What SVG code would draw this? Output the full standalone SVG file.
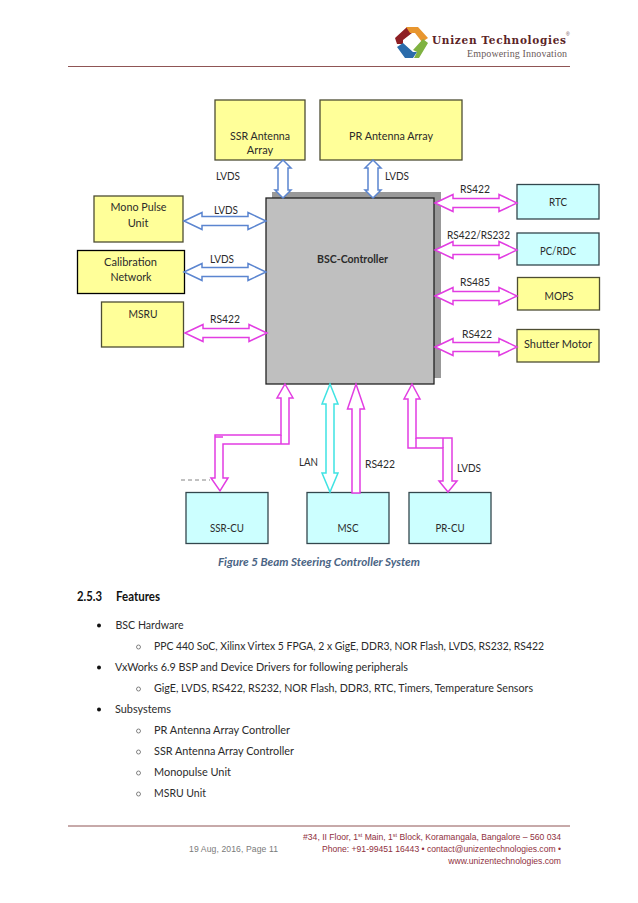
<svg xmlns="http://www.w3.org/2000/svg" width="638" height="903" viewBox="0 0 638 903">
<style>
text{font-family:Lato,"Liberation Sans",sans-serif;font-size:11px;fill:#2b2b2b}
.m{text-anchor:middle}
.b{font-weight:700}
.y{fill:#ffff99;stroke:#4d4d33;stroke-width:1.3}
.c{fill:#ccffff;stroke:#33474d;stroke-width:1.3}
.k{stroke:#000}
.arw{fill:#fff;stroke-width:1.5;stroke-linejoin:miter}
.blue{stroke:#5b85d0}
.mag{stroke:#e23de2}
.cy{stroke:#3fe3e3}
.ln{fill:none}
.rule{stroke:#8f5555;stroke-width:1}
.f{font-family:"Liberation Sans",Arial,sans-serif;font-size:8.6px;fill:#8f3040;text-anchor:end}
</style>
<defs><clipPath id="clipArray"><rect x="215" y="100" width="90" height="56.500"/></clipPath></defs>
<rect width="638" height="903" fill="#fff"/>
<g id="header">
<polygon points="395,38 407,27 412,33 403,40 403,44 397,44" fill="#8e1f24"/>
<polygon points="406,27 418,27 428,38 422,42 415,33 410,33" fill="#e8962f"/>
<polygon points="413,50 423,39 428,43 419,58 414,58 417,52" fill="#7fb241"/>
<polygon points="397,47 403,43 413,52 417,52 413,58 405,58" fill="#2b6cab"/>
<text x="432" y="44" textLength="134" lengthAdjust="spacing" style="font-family:'DejaVu Serif',serif;font-weight:700;font-size:10.500px;fill:#5b2326">Unizen Technologies</text>
<text x="566" y="36" style="font-family:'Liberation Sans',sans-serif;font-size:5px;fill:#6b4a4a">®</text>
<text x="467" y="57" textLength="100" lengthAdjust="spacing" style="font-family:'Liberation Serif',serif;font-size:10px;fill:#6a5a5a">Empowering Innovation</text>
<line class="rule" x1="68" y1="66.500" x2="570" y2="66.500"/>
</g>
<g id="bsc-controller">
<rect x="272" y="192" width="169" height="186" fill="#999"/>
<rect x="266" y="198" width="168" height="186" fill="#bfbfbf" stroke="#222" stroke-width="1.3"/>
<text class="b" x="317" y="263" textLength="71" lengthAdjust="spacingAndGlyphs">BSC-Controller</text>
</g>
<g id="ssr-antenna"><rect class="y" x="215" y="100" width="90" height="60"/><text x="230" y="140" textLength="60" lengthAdjust="spacingAndGlyphs">SSR Antenna</text><text class="m" x="260" y="154" clip-path="url(#clipArray)">Array</text></g>
<g id="pr-antenna"><rect class="y" x="320" y="100" width="142" height="60"/><text x="349" y="140" textLength="84" lengthAdjust="spacingAndGlyphs">PR Antenna Array</text></g>
<g id="mono-pulse"><rect class="y" x="94" y="196" width="89" height="46"/><text x="110.500" y="211" textLength="56" lengthAdjust="spacingAndGlyphs">Mono Pulse</text><text class="m" x="138" y="227">Unit</text></g>
<g id="calibration"><rect class="y k" x="77.500" y="250.500" width="107" height="43"/><text x="104" y="266" textLength="53" lengthAdjust="spacingAndGlyphs">Calibration</text><text x="110.500" y="281" textLength="41" lengthAdjust="spacingAndGlyphs">Network</text></g>
<g id="msru"><rect class="y" x="101.500" y="302" width="82" height="45"/><text x="128.500" y="318" textLength="29" lengthAdjust="spacingAndGlyphs">MSRU</text></g>
<g id="rtc"><rect class="c" x="517" y="184.500" width="82" height="34.500"/><text x="549" y="206" textLength="18" lengthAdjust="spacingAndGlyphs">RTC</text></g>
<g id="pc-rdc"><rect class="c" x="517" y="233" width="82" height="32"/><text x="540" y="255" textLength="36" lengthAdjust="spacingAndGlyphs">PC/RDC</text></g>
<g id="mops"><rect class="y" x="517.500" y="277.500" width="82" height="32.500"/><text x="544.500" y="300" textLength="29" lengthAdjust="spacingAndGlyphs">MOPS</text></g>
<g id="shutter"><rect class="y" x="517" y="329.500" width="82" height="32.500"/><text x="524" y="348" textLength="68" lengthAdjust="spacingAndGlyphs">Shutter Motor</text></g>
<g id="ssr-cu"><rect class="c" x="186" y="492.500" width="82" height="51"/><text x="210" y="532" textLength="34" lengthAdjust="spacingAndGlyphs">SSR-CU</text></g>
<g id="msc"><rect class="c" x="307" y="492.500" width="82" height="51"/><text x="337.500" y="532" textLength="21" lengthAdjust="spacingAndGlyphs">MSC</text></g>
<g id="pr-cu"><rect class="c" x="409" y="492.500" width="82" height="51"/><text x="435.500" y="532" textLength="29" lengthAdjust="spacingAndGlyphs">PR-CU</text></g>
<g id="connectors">
<polygon class="arw blue" points="283,160 291,168 288,168 288,190 291,190 283,198 275,190 278,190 278,168 275,168"/>
<polygon class="arw blue" points="373,160 381,168 378,168 378,190 381,190 373,198 365,190 368,190 368,168 365,168"/>
<polygon class="arw blue" points="184,221 202,212.500 202,216.500 248,216.500 248,212.500 266,221 248,229.500 248,225.500 202,225.500 202,229.500"/>
<polygon class="arw blue" points="184,272 202,263.500 202,267.500 248,267.500 248,263.500 266,272 248,280.500 248,276.500 202,276.500 202,280.500"/>
<polygon class="arw mag" points="185,333 203,324.500 203,328.500 249,328.500 249,324.500 267,333 249,341.500 249,337.500 203,337.500 203,341.500"/>
<polygon class="arw mag" points="435,203 453,194.500 453,198.500 499,198.500 499,194.500 517,203 499,211.500 499,207.500 453,207.500 453,211.500"/>
<polygon class="arw mag" points="435,250 453,241.500 453,245.500 499,245.500 499,241.500 517,250 499,258.500 499,254.500 453,254.500 453,258.500"/>
<polygon class="arw mag" points="435,296 453,287.500 453,291.500 499,291.500 499,287.500 517,296 499,304.500 499,300.500 453,300.500 453,304.500"/>
<polygon class="arw mag" points="435,347 453,338.500 453,342.500 499,342.500 499,338.500 517,347 499,355.500 499,351.500 453,351.500 453,355.500"/>
<polygon class="arw mag" points="285,384 293,398 289,398 289,444 223,444 223,478 228,478 220,491 211,478 215,478 215,435 281,435 281,398 277,398"/>
<path class="ln mag arw" style="fill:none" d="M281 435V444M215 437H223"/>
<polygon class="arw cy" points="330,384 338,404 334,404 334,473 338,473 330,492 322,473 326,473 326,404 322,404"/>
<polygon class="arw mag" points="356,384 364.500,409 360,409 360,493 352,493 352,409 347.500,409"/>
<polygon class="arw mag" points="412,384 420,399 416,399 416,438 452,438 452,481 457,481 448,492 439,481 443,481 443,448 408,448 408,399 404,399"/>
<path class="ln mag arw" style="fill:none" d="M416 438V448M443 438V448"/>
<path d="M181 480H210" stroke="#666" stroke-width="0.8" stroke-dasharray="4 3" fill="none"/>
</g>
<g id="connector-labels">
<text x="216" y="180" textLength="24" lengthAdjust="spacingAndGlyphs">LVDS</text>
<text x="385" y="180" textLength="24" lengthAdjust="spacingAndGlyphs">LVDS</text>
<text x="214" y="214" textLength="24" lengthAdjust="spacingAndGlyphs">LVDS</text>
<text x="210" y="263" textLength="24" lengthAdjust="spacingAndGlyphs">LVDS</text>
<text x="210" y="323" textLength="30" lengthAdjust="spacingAndGlyphs">RS422</text>
<text x="460" y="193" textLength="30" lengthAdjust="spacingAndGlyphs">RS422</text>
<text x="447" y="239" textLength="63" lengthAdjust="spacingAndGlyphs">RS422/RS232</text>
<text x="460" y="286" textLength="30" lengthAdjust="spacingAndGlyphs">RS485</text>
<text x="462" y="338" textLength="30" lengthAdjust="spacingAndGlyphs">RS422</text>
<text x="299" y="466" textLength="19" lengthAdjust="spacingAndGlyphs">LAN</text>
<text x="365" y="468" textLength="30" lengthAdjust="spacingAndGlyphs">RS422</text>
<text x="457" y="472" textLength="24" lengthAdjust="spacingAndGlyphs">LVDS</text>
</g>
<text x="218" y="566" textLength="202" lengthAdjust="spacingAndGlyphs" style="font-weight:700;font-style:italic;fill:#4a6484">Figure 5 Beam Steering Controller System</text>
<g id="body">
<text class="b" x="77" y="601" textLength="25" lengthAdjust="spacingAndGlyphs" style="font-size:12.500px;fill:#111">2.5.3</text>
<text class="b" x="116" y="601" textLength="44" lengthAdjust="spacingAndGlyphs" style="font-size:12.500px;fill:#111">Features</text>
<circle cx="99" cy="625.500" r="2" fill="#111"/>
<circle cx="99" cy="667.500" r="2" fill="#111"/>
<circle cx="99" cy="709.500" r="2" fill="#111"/>
<g fill="none" stroke="#666" stroke-width="0.8">
<circle cx="138.500" cy="647" r="2"/><circle cx="138.500" cy="689" r="2"/><circle cx="138.500" cy="731" r="2"/><circle cx="138.500" cy="752" r="2"/><circle cx="138.500" cy="773" r="2"/><circle cx="138.500" cy="794" r="2"/>
</g>
<text x="115.500" y="629" textLength="68" lengthAdjust="spacingAndGlyphs">BSC Hardware</text>
<text x="154" y="650" textLength="390" lengthAdjust="spacingAndGlyphs">PPC 440 SoC, Xilinx Virtex 5 FPGA, 2 x GigE, DDR3, NOR Flash, LVDS, RS232, RS422</text>
<text x="115" y="671" textLength="293" lengthAdjust="spacingAndGlyphs">VxWorks 6.9 BSP and Device Drivers for following peripherals</text>
<text x="154" y="692" textLength="379" lengthAdjust="spacingAndGlyphs">GigE, LVDS, RS422, RS232, NOR Flash, DDR3, RTC, Timers, Temperature Sensors</text>
<text x="115" y="713" textLength="56" lengthAdjust="spacingAndGlyphs">Subsystems</text>
<text x="154" y="734" textLength="136" lengthAdjust="spacingAndGlyphs">PR Antenna Array Controller</text>
<text x="154" y="755" textLength="140" lengthAdjust="spacingAndGlyphs">SSR Antenna Array Controller</text>
<text x="154" y="776" textLength="77" lengthAdjust="spacingAndGlyphs">Monopulse Unit</text>
<text x="154" y="797" textLength="52" lengthAdjust="spacingAndGlyphs">MSRU Unit</text>
</g>
<g id="footer">
<line class="rule" x1="68" y1="826" x2="570" y2="826"/>
<text class="f" x="561" y="840">#34, II Floor, 1<tspan font-size="5.500" dy="-3">st</tspan><tspan dy="3"> Main, 1</tspan><tspan font-size="5.500" dy="-3">st</tspan><tspan dy="3"> Block, Koramangala, Bangalore – 560 034</tspan></text>
<text class="f" x="561" y="852">Phone: +91-99451 16443 • contact@unizentechnologies.com •</text>
<text class="f" x="561" y="864">www.unizentechnologies.com</text>
<text x="189" y="852" textLength="89" style="font-family:'Liberation Sans',Arial,sans-serif;font-size:8.600px;fill:#7a7a7a">19 Aug, 2016, Page 11</text>
</g>
</svg>
